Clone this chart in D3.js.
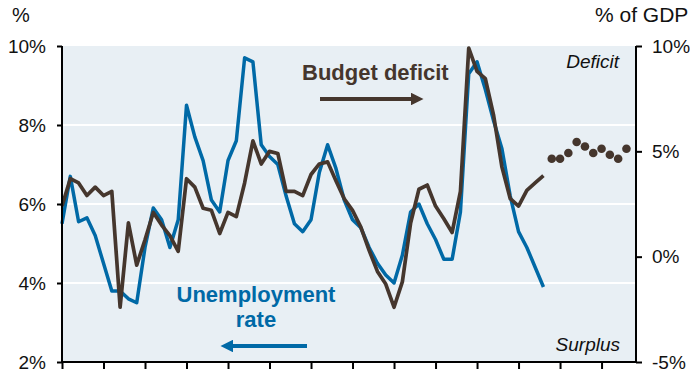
<!DOCTYPE html>
<html>
<head>
<meta charset="utf-8">
<script src="https://cdn.jsdelivr.net/npm/d3@7"></script>
<style>
  body { margin: 0; background: #fff; }
  text { font-family: "Liberation Sans", Arial, sans-serif; }
</style>
</head>
<body>
<div id="my_dataviz"></div>
<script>
// data
var years = d3.range(1960, 2019);
var unemployment = [5.5, 6.7, 5.55, 5.65, 5.2, 4.5, 3.8, 3.8, 3.6, 3.5,
  4.9, 5.9, 5.6, 4.9, 5.6, 8.5, 7.7, 7.1, 6.1, 5.8,
  7.1, 7.6, 9.7, 9.6, 7.5, 7.2, 7.0, 6.2, 5.5, 5.3,
  5.6, 6.8, 7.5, 6.9, 6.1, 5.6, 5.4, 4.9, 4.5, 4.2,
  4.0, 4.7, 5.8, 6.0, 5.5, 5.1, 4.6, 4.6, 5.8, 9.3,
  9.6, 8.9, 8.1, 7.4, 6.2, 5.3, 4.9, 4.4, 3.9];
var deficit = [2.4, 3.7, 3.5, 2.9, 3.3, 2.9, 3.1, -2.4, 1.6, -0.4,
  0.8, 2.1, 1.5, 1.0, 0.25, 3.7, 3.3, 2.3, 2.2, 1.1,
  2.1, 1.9, 3.5, 5.5, 4.4, 5.0, 4.9, 3.1, 3.1, 2.9,
  3.9, 4.4, 4.5, 3.6, 2.75, 2.2, 1.4, 0.3, -0.7, -1.3,
  -2.4, -1.2, 1.6, 3.2, 3.4, 2.4, 1.8, 1.15, 3.1, 9.9,
  8.8, 8.45, 6.7, 4.25, 2.75, 2.4, 3.15, 3.5, 3.85];
var projYears = d3.range(2019, 2029);
var projDeficit = [4.65, 4.65, 4.92, 5.44, 5.23, 4.92, 5.12, 4.84, 4.65, 5.12];
var leftTicks = [2, 4, 6, 8, 10];
var rightTicks = [-5, 0, 5, 10];
var xTicks = d3.range(1960, 2030, 5);

var blue = "#0069a6", brown = "#45362d";

// set the dimensions and margins of the graph
var margin = {top: 46, right: 54, bottom: 11, left: 62},
    width = 690 - margin.left - margin.right,
    height = 373 - margin.top - margin.bottom;

var svg = d3.select("#my_dataviz")
  .append("svg")
    .attr("width", 690)
    .attr("height", 373);

var chart = svg.append("g")
    .attr("transform", "translate(" + margin.left + "," + margin.top + ")");

var x = d3.scaleLinear().domain([1960, 2029.15]).range([0, width]);
var yL = d3.scaleLinear().domain([2, 10]).range([height, 0]);
var yR = d3.scaleLinear().domain([-5, 10]).range([height, 0]);

// background
chart.append("rect")
    .attr("width", width)
    .attr("height", height)
    .attr("fill", "#e8eff4");

// grid lines
chart.selectAll(".grid")
  .data([4, 6, 8])
  .enter()
  .append("line")
    .attr("x1", 0)
    .attr("x2", width)
    .attr("y1", function(d) { return yL(d); })
    .attr("y2", function(d) { return yL(d); })
    .attr("stroke", "#fff")
    .attr("stroke-width", 2);

// annotations
chart.append("text")
    .attr("x", 557)
    .attr("y", 22)
    .attr("text-anchor", "end")
    .style("font-size", "19px")
    .style("font-style", "italic")
    .attr("fill", "#111")
    .text("Deficit");

chart.append("text")
    .attr("x", 558)
    .attr("y", 305)
    .attr("text-anchor", "end")
    .style("font-size", "19px")
    .style("font-style", "italic")
    .attr("fill", "#111")
    .text("Surplus");

chart.append("text")
    .attr("x", 240)
    .attr("y", 34)
    .style("font-size", "22px")
    .style("font-weight", "bold")
    .attr("fill", brown)
    .text("Budget deficit");

chart.append("text")
    .attr("x", 194)
    .attr("y", 256)
    .attr("text-anchor", "middle")
    .style("font-size", "22px")
    .style("font-weight", "bold")
    .attr("fill", blue)
    .text("Unemployment");

chart.append("text")
    .attr("x", 194)
    .attr("y", 281)
    .attr("text-anchor", "middle")
    .style("font-size", "22px")
    .style("font-weight", "bold")
    .attr("fill", blue)
    .text("rate");

// arrows
var defs = svg.append("defs");
function marker(id, color) {
  defs.append("marker")
      .attr("id", id)
      .attr("viewBox", "0 0 10 10")
      .attr("refX", 1)
      .attr("refY", 5)
      .attr("markerWidth", 3.2)
      .attr("markerHeight", 3.2)
      .attr("orient", "auto")
    .append("path")
      .attr("d", "M0,0L10,5L0,10z")
      .attr("fill", color);
}
marker("arrB", brown);
marker("arrU", blue);

chart.append("line")
    .attr("x1", 258).attr("y1", 53)
    .attr("x2", 350).attr("y2", 53)
    .attr("stroke", brown)
    .attr("stroke-width", 4)
    .attr("marker-end", "url(#arrB)");

chart.append("line")
    .attr("x1", 245).attr("y1", 300)
    .attr("x2", 170).attr("y2", 300)
    .attr("stroke", blue)
    .attr("stroke-width", 4)
    .attr("marker-end", "url(#arrU)");

// unemployment line
chart.append("path")
  .datum(years)
    .attr("fill", "none")
    .attr("stroke", blue)
    .attr("stroke-width", 3.5)
    .attr("stroke-linejoin", "round")
    .attr("d", d3.line()
      .x(function(d) { return x(d); })
      .y(function(d, i) { return yL(unemployment[i]); }));

// deficit line
chart.append("path")
  .datum(years)
    .attr("fill", "none")
    .attr("stroke", brown)
    .attr("stroke-width", 3.7)
    .attr("stroke-linejoin", "round")
    .attr("d", d3.line()
      .x(function(d) { return x(d); })
      .y(function(d, i) { return yR(deficit[i]); }));

// projected deficit dots
chart.selectAll(".dot")
  .data(projYears)
  .enter()
  .append("circle")
    .attr("cx", function(d) { return x(d); })
    .attr("cy", function(d, i) { return yR(projDeficit[i]); })
    .attr("r", 4.3)
    .attr("fill", brown);

// axes
var axL = chart.append("g")
    .call(d3.axisLeft(yL).tickValues(leftTicks).tickSize(5).tickPadding(11)
      .tickFormat(function(d) { return d + "%"; }));
var axR = chart.append("g")
    .attr("transform", "translate(" + width + ",0)")
    .call(d3.axisRight(yR).tickValues(rightTicks).tickSize(6).tickPadding(10)
      .tickFormat(function(d) { return d + "%"; }));
var axB = chart.append("g")
    .attr("transform", "translate(0," + height + ")")
    .call(d3.axisBottom(x).tickValues(xTicks).tickSize(7).tickFormat(""));

[axL, axR, axB].forEach(function(a) {
  a.select(".domain").attr("stroke", "#000").attr("stroke-width", 2);
  a.selectAll(".tick line").attr("stroke", "#000").attr("stroke-width", 2);
  a.selectAll(".tick text")
    .attr("fill", "#111")
    .style("font-size", "19px")
    .style("font-family", "'Liberation Sans', Arial, sans-serif");
});
axL.select(".domain").attr("d", "M0," + height + "V0");
axR.select(".domain").attr("d", "M0," + height + "V0");
axB.select(".domain").attr("d", "M0,0H" + width);

// unit labels
svg.append("text")
    .attr("x", 12)
    .attr("y", 22)
    .style("font-size", "20px")
    .attr("fill", "#111")
    .text("%");

svg.append("text")
    .attr("x", 595)
    .attr("y", 22)
    .style("font-size", "21px")
    .attr("fill", "#111")
    .text("% of GDP");
</script>
</body>
</html>
